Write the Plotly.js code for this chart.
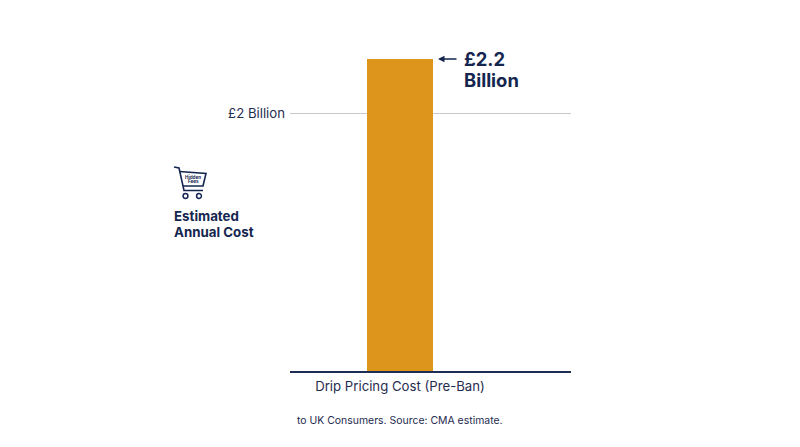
<!DOCTYPE html>
<html>
<head>
<meta charset="utf-8">
<script src="https://cdn.plot.ly/plotly-3.0.1.min.js"></script>
<style>html,body{margin:0;padding:0;background:#fff}#c{width:800px;height:447px}</style>
</head>
<body>
<div id="c"></div>
<script>
const categories = ["Drip Pricing Cost (Pre-Ban)"];
const barHeights = [2.42];
const tickValues = [2];
const tickLabels = ["£2 Billion"];
const calloutLines = ["£2.2", "Billion"];
const sideLines = ["Estimated", "Annual Cost"];
const iconLines = ["Hidden", "Fees"];
const footerText = "to UK Consumers. Source: CMA estimate.";

const W = 800, H = 447;
const m = {l: 290, r: 229, t: 30, b: 76};
const fx = p => (p - m.l) / (W - m.l - m.r);
const fy = p => 1 - (p - m.t) / (H - m.t - m.b);
const navy = "#14264f";
const font = "Inter, 'Open Sans', sans-serif";

const pathOf = pts => pts.map((p, i) => (i ? "L" : "M") + fx(p[0]).toFixed(5) + "," + fy(p[1]).toFixed(5)).join(" ");
const iconLine = pts => ({type: "path", xref: "paper", yref: "paper", path: pathOf(pts), line: {color: navy, width: 1.6}});
const iconWheel = (cx, cy) => ({type: "circle", xref: "paper", yref: "paper",
  x0: fx(cx - 2.4), x1: fx(cx + 2.4), y0: fy(cy + 2.4), y1: fy(cy - 2.4), line: {color: navy, width: 1.5}});
const textAt = (text, x, y, size, anchor, color) => ({xref: "paper", yref: "paper", x: fx(x), y: fy(y), xanchor: anchor, yanchor: "middle",
  showarrow: false, text: text, borderpad: 0, font: {size: size, color: color, family: font}});

const layout = {
  width: W, height: H, margin: m, showlegend: false,
  paper_bgcolor: "#fff", plot_bgcolor: "#fff",
  font: {family: font, color: navy},
  bargap: 0,
  xaxis: {type: "category", range: [-1.667, 2.591], showgrid: false, showline: true, linecolor: "#1d2d55", linewidth: 2,
    ticks: "", ticklabelstandoff: 2, tickfont: {size: 13.2, color: "#1f2c50", family: font}, fixedrange: true},
  yaxis: {range: [0, 341 / 128.75], tickvals: tickValues, ticktext: tickLabels, showgrid: true, gridcolor: "#c9c9c9", gridwidth: 1,
    zeroline: false, showline: false, ticks: "", ticklabelstandoff: 4, tickfont: {size: 13.2, color: "#1f2c50", family: font}, fixedrange: true},
  annotations: [
    textAt("<b>" + calloutLines[0] + "</b>", 462.5, 59, 18.4, "left", navy),
    textAt("<b>" + calloutLines[1] + "</b>", 462.5, 79.5, 18.4, "left", navy),
    {xref: "paper", yref: "paper", x: fx(438), y: fy(59), axref: "pixel", ayref: "pixel", ax: 20, ay: 0, text: "", showarrow: true,
      arrowhead: 2, arrowsize: 1, arrowwidth: 1.3, arrowcolor: navy},
    textAt("<b>" + sideLines[0] + "</b>", 173, 216, 13.3, "left", navy),
    textAt("<b>" + sideLines[1] + "</b>", 173, 232, 13.3, "left", navy),
    textAt("<b>" + iconLines[0] + "</b>", 193, 177, 4.6, "center", navy),
    textAt("<b>" + iconLines[1] + "</b>", 193, 181.5, 4.6, "center", navy),
    textAt(footerText, 400, 420, 10.45, "center", "#1f2c50")
  ],
  shapes: [
    iconLine([[174, 167], [179, 168], [184, 190.5], [203, 190.5]]),
    iconLine([[179.5, 171.5], [206, 173.5], [203, 186], [183, 186]]),
    iconWheel(185.5, 196),
    iconWheel(199, 196)
  ]
};

Plotly.newPlot("c", [{
  type: "bar", x: categories, y: barHeights, width: [1],
  marker: {color: "#de951c", line: {width: 0}}, hoverinfo: "skip"
}], layout, {displayModeBar: false, staticPlot: true});
</script>
</body>
</html>
